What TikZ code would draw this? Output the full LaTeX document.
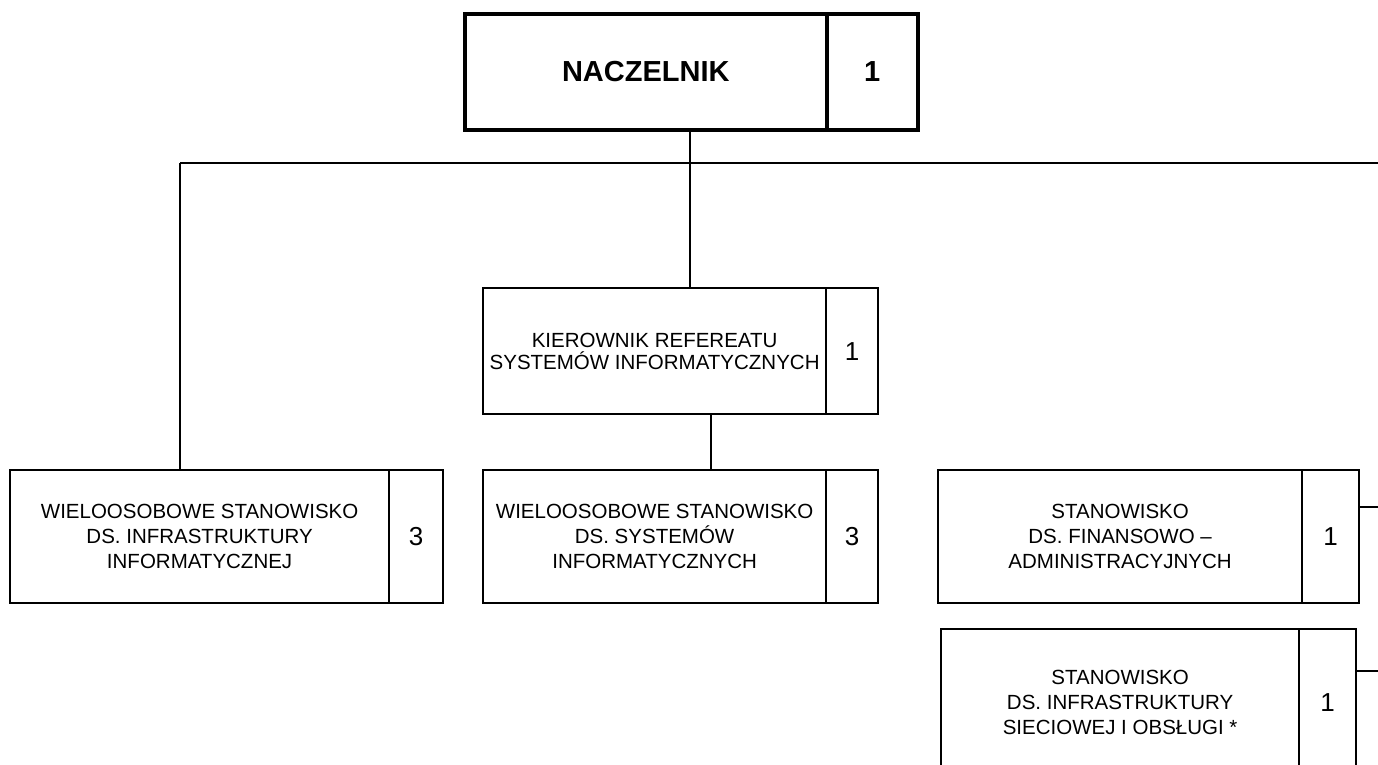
\documentclass[tikz,border=0pt]{standalone}
\usepackage{fontspec}
\setmainfont{Liberation Sans}
\usetikzlibrary{calc}
\tikzset{
  cell/.style={draw, line width=2.2pt, anchor=north west, inner sep=0pt, align=center,
    font=\fontsize{20.5}{25}\selectfont},
  numcell/.style={cell, font=\fontsize{26}{30}\selectfont},
  topcell/.style={cell, line width=3.6pt, font=\fontsize{29}{34}\selectfont\bfseries},
  link/.style={line width=2.2pt},
}
\begin{document}
\begin{tikzpicture}[x=1pt,y=-1pt]
\useasboundingbox (0,0) rectangle (1378,765);
\clip (0,0) rectangle (1378,765);
% top
\node[topcell, minimum width=362, minimum height=116] (nacz) at (463,12) {NACZELNIK};
\node[topcell, minimum width=91, minimum height=116] (naczn) at (825,12) {1};
% kierownik
\node[cell, font=\fontsize{20.5}{22}\selectfont, minimum width=343, minimum height=126] (kier) at (482,287) {KIEROWNIK REFEREATU\\SYSTEMÓW INFORMATYCZNYCH};
\node[numcell, minimum width=52, minimum height=126] (kiern) at (825,287) {1};
% left
\node[cell, minimum width=379, minimum height=133] (left) at (9,469) {WIELOOSOBOWE STANOWISKO\\DS. INFRASTRUKTURY\\INFORMATYCZNEJ};
\node[numcell, minimum width=54, minimum height=133] (leftn) at (388,469) {3};
% middle
\node[cell, minimum width=343, minimum height=133] (mid) at (482,469) {WIELOOSOBOWE STANOWISKO\\DS. SYSTEMÓW\\INFORMATYCZNYCH};
\node[numcell, minimum width=52, minimum height=133] (midn) at (825,469) {3};
% right 1
\node[cell, minimum width=364, minimum height=133] (fin) at (937,469) {STANOWISKO\\DS. FINANSOWO –\\ADMINISTRACYJNYCH};
\node[numcell, minimum width=57, minimum height=133] (finn) at (1301,469) {1};
% right 2
\node[cell, minimum width=358, minimum height=146] (sie) at (940,628) {STANOWISKO\\DS. INFRASTRUKTURY\\SIECIOWEJ I OBSŁUGI *};
\node[numcell, minimum width=57, minimum height=146] (sien) at (1298,628) {1};
% connectors
\coordinate (bus) at (690,163);
\coordinate (busleft) at (180,163);
\coordinate (busright) at (1400,163);
\coordinate (kdrop) at (711,413);
\coordinate (finout) at (1400,507);
\coordinate (sieout) at (1400,671);
\draw[link] (nacz.south -| bus) -- (bus);
\draw[link] (busleft) -- (busright);
\draw[link] (busleft) -- (left.north -| busleft);
\draw[link] (bus) -- (kier.north -| bus);
\draw[link] (kier.south -| kdrop) -- (mid.north -| kdrop);
\draw[link] (finn.east |- finout) -- (finout);
\draw[link] (sien.east |- sieout) -- (sieout);
\end{tikzpicture}
\end{document}
